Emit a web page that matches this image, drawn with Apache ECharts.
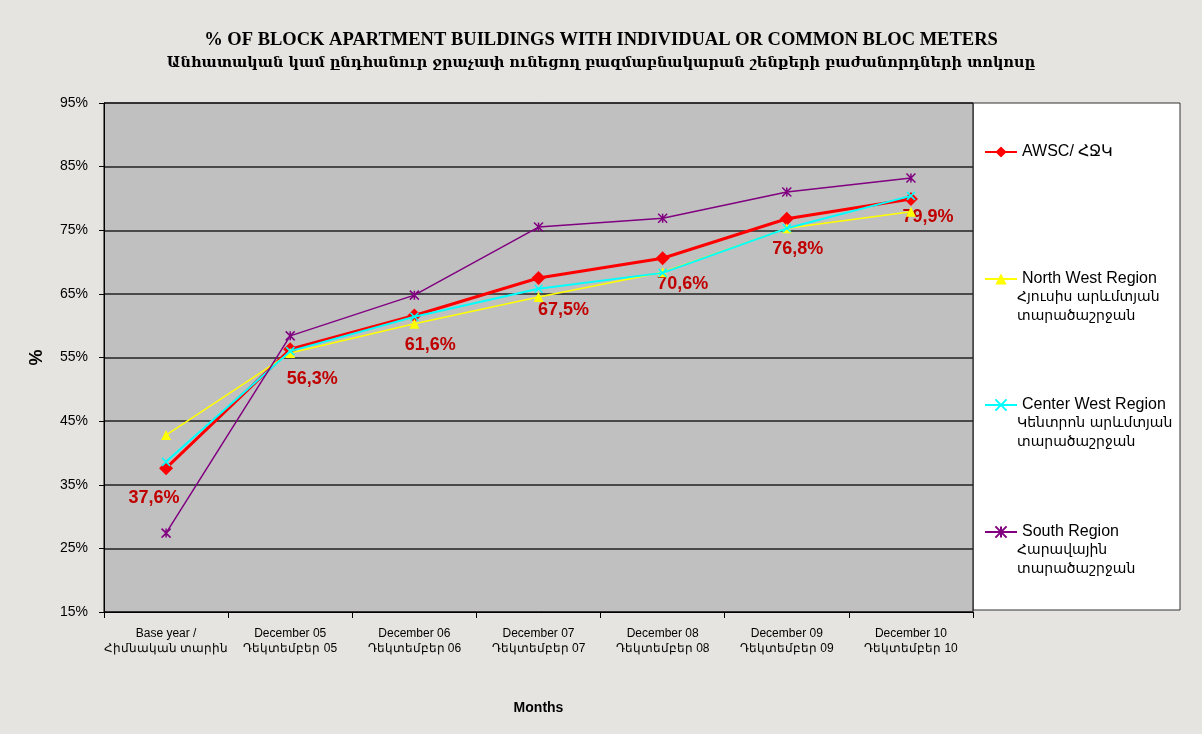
<!DOCTYPE html>
<html><head><meta charset="utf-8">
<script src="https://cdn.jsdelivr.net/npm/echarts@6/dist/echarts.min.js"></script>
<style>html,body{margin:0;padding:0;background:#e5e4e1}#c{width:1202px;height:734px}</style>
</head><body><div id="c"></div>
<script>
const categories = ['Base year /\nՀիմնական տարին','December 05\nԴեկտեմբեր 05','December 06\nԴեկտեմբեր 06','December 07\nԴեկտեմբեր 07','December 08\nԴեկտեմբեր 08','December 09\nԴեկտեմբեր 09','December 10\nԴեկտեմբեր 10'];
const awsc = [37.6, 56.3, 61.6, 67.5, 70.6, 76.8, 79.9];
const northWest = [42.8, 55.7, 60.3, 64.5, 68.4, 75.3, 77.9];
const centerWest = [38.6, 56.0, 61.4, 65.8, 68.3, 75.3, 80.4];
const south = [27.4, 58.4, 64.8, 75.5, 76.9, 81.0, 83.2];
const seriesNames = ['AWSC/ ՀՋԿ', 'North West Region', 'Center West Region', 'South Region'];
const seriesSub = ['', 'Հյուսիս արևմտյան\nտարածաշրջան', 'Կենտրոն արևմտյան\nտարածաշրջան', 'Հարավային\nտարածաշրջան'];
const yTicks = [15, 25, 35, 45, 55, 65, 75, 85, 95];
const titleEn = '% OF BLOCK APARTMENT BUILDINGS WITH INDIVIDUAL OR COMMON BLOC METERS';
const titleHy = 'Անհատական կամ ընդհանուր ջրաչափ ունեցող բազմաբնակարան շենքերի բաժանորդների տոկոսը';

const chart = echarts.init(document.getElementById('c'));
const labelOffsets = [[-12, 0], [22, 0], [16, 0], [25, 2], [20, -4], [11, 0], [17, -12]];
const legendTops = [139, 266, 392, 519];
const legends = seriesNames.map((n, i) => ({
  data: [n], orient: 'vertical', left: 979, top: legendTops[i],
  itemWidth: 32, itemHeight: 14, selectedMode: false,
  textStyle: {fontFamily: 'Liberation Sans, Arial', fontSize: 16, color: '#000'}
}));
const subTexts = seriesSub.map((s, i) => s ? ({
  type: 'text', left: 1017, top: legendTops[i] + 22,
  style: {text: s, fontFamily: 'DejaVu Sans, Liberation Sans', fontSize: 14, lineHeight: 19, fill: '#000'}
}) : null).filter(Boolean);

chart.setOption({
  backgroundColor: '#e5e4e1',
  animation: false,
  title: [
    {text: titleEn, left: 'center', top: 26, textStyle: {fontFamily: 'Liberation Serif, DejaVu Serif', fontSize: 18.5, fontWeight: 'bold', color: '#000'}},
    {text: titleHy, left: 'center', top: 51, textStyle: {fontFamily: 'DejaVu Serif, Noto Sans', fontSize: 14.5, fontWeight: 'bold', color: '#000'}}
  ],
  graphic: [
    {type: 'rect', shape: {x: 973, y: 103, width: 207, height: 507}, style: {fill: '#fff', stroke: '#333', lineWidth: 1}, z: -1}
  ].concat(subTexts),
  legend: legends,
  grid: {left: 104, right: 229, top: 103, bottom: 122, show: true, backgroundColor: '#c0c0c0', borderColor: '#000', borderWidth: 1},
  xAxis: {
    type: 'category', data: categories, boundaryGap: true,
    name: 'Months', nameLocation: 'middle', nameGap: 89,
    nameTextStyle: {fontFamily: 'Liberation Sans, Arial', fontWeight: 'bold', fontSize: 14, color: '#000'},
    axisLine: {lineStyle: {color: '#000', width: 1}},
    axisTick: {show: true, length: 6, lineStyle: {color: '#000'}},
    axisLabel: {color: '#000', fontFamily: 'Liberation Sans Narrow, Liberation Sans, Arial', fontSize: 12, lineHeight: 15, margin: 14, interval: 0}
  },
  yAxis: {
    type: 'value', min: 15, max: 95, interval: 10,
    name: '%', nameLocation: 'middle', nameGap: 58, nameRotate: 90,
    nameTextStyle: {fontFamily: 'Liberation Sans, Arial', fontWeight: 'bold', fontSize: 18, color: '#000'},
    axisLine: {show: true, lineStyle: {color: '#000'}},
    axisTick: {show: true, length: 5, lineStyle: {color: '#000'}},
    axisLabel: {formatter: v => yTicks.includes(v) ? v + '%' : '', color: '#000', fontFamily: 'Liberation Sans, Arial', fontSize: 14, margin: 16},
    splitLine: {lineStyle: {color: '#222', width: 1.5}}
  },
  series: [
    {name: seriesNames[0], type: 'line', data: awsc.map((v, i) => ({value: v, label: {offset: labelOffsets[i]}})),
     symbol: 'diamond', symbolSize: 14, lineStyle: {color: '#ff0000', width: 3}, itemStyle: {color: '#ff0000'},
     label: {show: true, position: 'bottom', distance: 14, formatter: p => p.value.toFixed(1).replace('.', ',') + '%',
       color: '#c00000', fontFamily: 'Liberation Sans, Arial', fontWeight: 'bold', fontSize: 18}, z: 2},
    {name: seriesNames[1], type: 'line', data: northWest, symbol: 'triangle', symbolSize: 10,
     lineStyle: {color: '#ffff00', width: 1.5}, itemStyle: {color: '#ffff00'}, z: 3},
    {name: seriesNames[2], type: 'line', data: centerWest, symbol: 'path://M0,0L10,10M10,0L0,10', symbolSize: 8,
     lineStyle: {color: '#00ffff', width: 2}, itemStyle: {color: '#00ffff', borderColor: '#00ffff', borderWidth: 1.5}, z: 4},
    {name: seriesNames[3], type: 'line', data: south, symbol: 'path://M0,0L10,10M10,0L0,10M5,0L5,10', symbolSize: 9,
     lineStyle: {color: '#800080', width: 1.5}, itemStyle: {color: '#800080', borderColor: '#800080', borderWidth: 1.5}, z: 5}
  ]
});
</script></body></html>
